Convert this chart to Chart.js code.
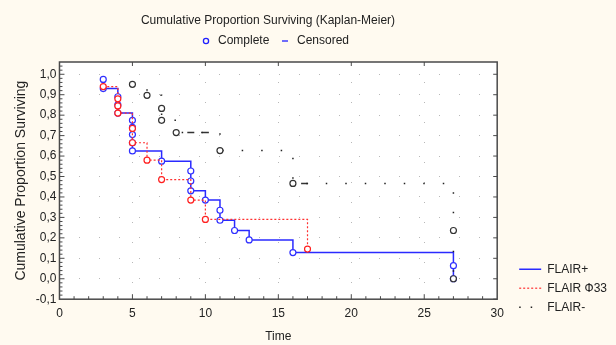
<!DOCTYPE html>
<html>
<head>
<meta charset="utf-8">
<script src="https://cdn.jsdelivr.net/npm/chart.js@4.4.1/dist/chart.umd.min.js"></script>
<style>
  html, body { margin: 0; padding: 0; background: #fffaf0; }
  #wrap { width: 616px; height: 345px; }
</style>
</head>
<body>
<div id="wrap"><canvas id="km"></canvas></div>
<script>
// ---- data ----
const xTicks = [0, 5, 10, 15, 20, 25, 30];
const yTicks = [-0.1, 0, 0.1, 0.2, 0.3, 0.4, 0.5, 0.6, 0.7, 0.8, 0.9, 1.0];

// FLAIR+ (blue, complete events)
const plusT = [3, 3, 4, 4, 4, 5, 5, 5, 5, 5, 7, 9, 9, 9, 10, 11, 11, 12, 13, 16, 27, 27];
const plusS = [0.975, 0.93, 0.89, 0.85, 0.81, 0.775, 0.74, 0.705, 0.665, 0.625, 0.575, 0.527, 0.478, 0.43, 0.385, 0.335, 0.286, 0.236, 0.19, 0.128, 0.064, 0];

// FLAIR Ф33 (red)
const f33T = [3, 4, 4, 4, 5, 5, 6, 7, 9, 10, 17];
const f33S = [0.94, 0.88, 0.845, 0.81, 0.735, 0.665, 0.58, 0.485, 0.385, 0.29, 0.145];

// FLAIR- (black)
const minusT = [5, 6, 7, 7, 8, 11, 16, 27, 27];
const minusS = [0.951, 0.897, 0.833, 0.775, 0.715, 0.627, 0.466, 0.236, 0];

// censored marks (FLAIR-)
const censT = [9, 10, 16.8];
const censS = [0.715, 0.715, 0.466];

const FONT = '"Liberation Sans", Arial, sans-serif';
const pts = (t, s) => t.map((v, i) => ({ x: v, y: s[i] }));

const decor = {
  id: 'decor',
  afterLayout(chart) {
    // move the series legend a bit right/down, like the original
    const lg = chart.legend;
    lg.left += 15; lg.right += 15;
    lg.top += 21; lg.bottom += 21;
  },
  beforeDraw(chart) {
    const { ctx, chartArea: a, width, height } = chart;
    ctx.save();
    ctx.fillStyle = '#fffaf0';
    ctx.fillRect(0, 0, width, height);
    ctx.fillStyle = '#ffffff';
    ctx.fillRect(a.left, a.top, a.right - a.left, a.bottom - a.top);
    ctx.restore();
  },
  afterDraw(chart) {
    const { ctx, chartArea: a, scales: { x, y } } = chart;
    ctx.save();
    // frame
    ctx.strokeStyle = '#4a4a4a';
    ctx.lineWidth = 1.5;
    ctx.strokeRect(a.left, a.top, a.right - a.left, a.bottom - a.top);
    // inward ticks
    ctx.lineWidth = 1;
    ctx.beginPath();
    for (let k = -5; k <= 53; k++) {
      const py = y.getPixelForValue(k * 0.02);
      if (py < a.top + 1 || py > a.bottom - 1) continue;
      const len = k % 5 === 0 ? 5 : 3;
      ctx.moveTo(a.left, py); ctx.lineTo(a.left + len, py);
    }
    for (let t = 1; t < 30; t++) {
      const px = x.getPixelForValue(t);
      const len = t % 5 === 0 ? 5 : 3;
      ctx.moveTo(px, a.bottom); ctx.lineTo(px, a.bottom - len);
      if (t % 5 === 0) { ctx.moveTo(px, a.top); ctx.lineTo(px, a.top + 4); }
    }
    yTicks.forEach(v => {
      const py = y.getPixelForValue(v);
      ctx.moveTo(a.right, py); ctx.lineTo(a.right - 4, py);
    });
    ctx.stroke();

    // title and key
    ctx.fillStyle = '#222';
    ctx.font = '12px ' + FONT;
    ctx.textAlign = 'center';
    ctx.textBaseline = 'middle';
    ctx.fillText('Cumulative Proportion Surviving (Kaplan-Meier)', 268, 21);
    ctx.textAlign = 'left';
    ctx.fillText('Complete', 218, 41);
    ctx.fillText('Censored', 297, 41);
    ctx.strokeStyle = '#2020ff';
    ctx.lineWidth = 1.3;
    ctx.beginPath(); ctx.arc(206, 41, 2.6, 0, Math.PI * 2); ctx.stroke();
    ctx.beginPath(); ctx.moveTo(282, 41); ctx.lineTo(288, 41); ctx.stroke();
    ctx.restore();
  }
};

new Chart(document.getElementById('km'), {
  type: 'scatter',
  data: {
    datasets: [
      {
        label: 'FLAIR-', data: pts(minusT, minusS), order: 0,
        showLine: true, stepped: true,
        borderColor: '#222', borderWidth: 1.5, borderDash: [1.5, 18],
        pointRadius: 3, pointBorderWidth: 1.2, pointBorderColor: '#333', pointBackgroundColor: '#fff'
      },
      {
        label: 'censored', data: pts(censT, censS), order: 0,
        showLine: false, pointStyle: 'line', pointRadius: 3.5, pointBorderWidth: 1.5,
        borderColor: '#333', pointBorderColor: '#333'
      },
      {
        label: 'FLAIR \u042433', data: pts(f33T, f33S), order: 1,
        showLine: true, stepped: true,
        borderColor: '#ff3030', borderWidth: 1.2, borderDash: [2, 2],
        pointRadius: 3, pointBorderWidth: 1.2, pointBorderColor: '#ff2020', pointBackgroundColor: '#fff'
      },
      {
        label: 'FLAIR+', data: pts(plusT, plusS), order: 2,
        showLine: true, stepped: true,
        borderColor: '#2a2aff', borderWidth: 1.5,
        pointRadius: 3, pointBorderWidth: 1.2, pointBorderColor: '#3030ff', pointBackgroundColor: '#fff'
      }
    ]
  },
  options: {
    responsive: true, maintainAspectRatio: false, animation: false,
    layout: { padding: { top: 62, left: 13, right: 14, bottom: 1 } },
    plugins: {
      tooltip: { enabled: false },
      legend: {
        position: 'right', align: 'end', reverse: true, fullSize: false,
        labels: {
          color: '#222', font: { family: FONT, size: 12 },
          usePointStyle: true, pointStyleWidth: 22, padding: 7,
          filter: item => item.text !== 'censored',
          generateLabels(chart) {
            return chart.data.datasets.map((ds, i) => ({
              text: ds.label, datasetIndex: i,
              pointStyle: 'line', strokeStyle: ds.borderColor, fillStyle: ds.borderColor,
              lineWidth: ds.borderWidth,
              lineDash: ds.label === 'FLAIR-' ? [1.5, 10] : (ds.borderDash || []),
              fontColor: '#222', hidden: false
            }));
          }
        }
      }
    },
    scales: {
      x: {
        type: 'linear', min: 0, max: 30,
        afterBuildTicks: ax => { ax.ticks = xTicks.map(v => ({ value: v })); },
        ticks: { color: '#222', font: { family: FONT, size: 12 }, padding: 7 },
        grid: { color: c => (c.tick && (c.tick.value === 0 || c.tick.value === 30)) ? 'transparent' : '#b8b8b8', lineWidth: 1, drawTicks: false },
        border: { display: false, dash: [1, 19] },
        title: { display: true, text: 'Time', color: '#222', font: { family: FONT, size: 12 }, padding: { top: 2, bottom: 0 } }
      },
      y: {
        type: 'linear', min: -0.1, max: 1.06,
        afterBuildTicks: ax => { ax.ticks = yTicks.map(v => ({ value: v })); },
        ticks: { color: '#222', font: { family: FONT, size: 12 }, padding: 3,
          callback: v => v.toFixed(1).replace('.', ',') },
        grid: { color: c => (c.tick && c.tick.value === -0.1) ? 'transparent' : '#b8b8b8', lineWidth: 1, drawTicks: false },
        border: { display: false, dash: [1, 19] },
        title: { display: true, text: 'Cumulative Proportion Surviving', color: '#222', font: { family: FONT, size: 14 }, padding: { top: 0, bottom: 3 } }
      }
    }
  },
  plugins: [decor]
});
</script>
</body>
</html>
